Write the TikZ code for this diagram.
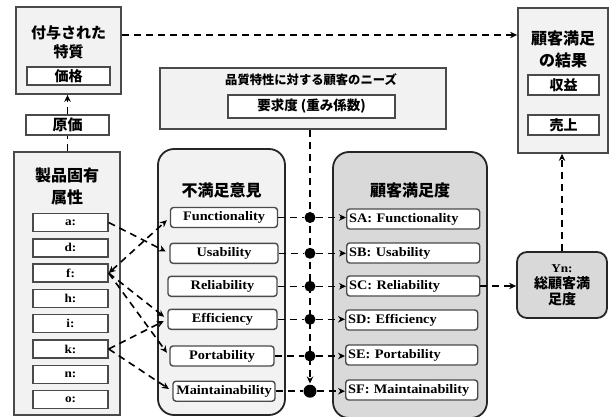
\documentclass[tikz,border=0pt]{standalone}
\usepackage{fontspec}
\setmainfont{Liberation Serif}
\newfontfamily\jp{Noto Sans CJK JP}
\newfontfamily\lat{Liberation Serif}[FakeStretch=1.1]
\usetikzlibrary{arrows.meta}
\definecolor{lightbg}{HTML}{F2F2F2}
\definecolor{darkbg}{HTML}{D9D9D9}
\definecolor{edge}{HTML}{4A4A4A}
\begin{document}
\begin{tikzpicture}[x=1pt,y=-1pt,
  outerbox/.style={draw=edge, line width=1.8pt, fill=lightbg, inner sep=0pt},
  roundbox/.style={draw=black!85, line width=1.8pt, rounded corners=16pt, inner sep=0pt},
  whitebox/.style={draw=edge, line width=1.4pt, fill=white, inner sep=0pt, font=\jp\bfseries\fontsize{14}{16}\selectfont},
  attrbox/.style={draw=edge, line width=1.4pt, fill=white, inner sep=0pt, minimum width=75pt, minimum height=18pt, font=\lat\bfseries\fontsize{12}{13}\selectfont},
  itembox/.style={draw=edge, line width=1.4pt, fill=white, rounded corners=3pt, inner sep=0pt, minimum height=20pt, font=\lat\bfseries\fontsize{13}{14}\selectfont},
  jptitle/.style={align=center, inner sep=0pt, font=\jp\bfseries\fontsize{16}{22}\selectfont},
  dashline/.style={draw=black, line width=1.6pt, dash pattern=on 7pt off 5pt},
  arr/.style={-{Stealth[length=7pt,width=6.5pt]}},
  dot/.style={circle, fill=black, minimum size=11pt, inner sep=0pt}
]
\useasboundingbox (0,0) rectangle (615,417);

% left column
\node[outerbox, minimum width=105pt, minimum height=87pt] (fuyo) at (68.5,50.5) {};
\node[jptitle, font=\jp\bfseries\fontsize{15}{19}\selectfont] (fuyoT) at (68.5,42.5) {付与された\\特質};
\node[whitebox, minimum width=83pt, minimum height=18pt] (kakaku) at (68.5,76) {価格};
\node[whitebox, minimum width=83pt, minimum height=20pt, font=\jp\bfseries\fontsize{15}{16}\selectfont] (genka) at (67.5,125) {原価};

\node[outerbox, minimum width=106pt, minimum height=263pt] (seihin) at (67,283.5) {};
\node[jptitle] (seihinT) at (67,186) {製品固有\\属性};
\node[attrbox] (a) at (70.5,222.5) {a:};
\node[attrbox] (d) at (70.5,247.8) {d:};
\node[attrbox] (f) at (70.5,273.1) {f:};
\node[attrbox] (h) at (70.5,298.4) {h:};
\node[attrbox] (i) at (70.5,323.7) {i:};
\node[attrbox] (k) at (70.5,349) {k:};
\node[attrbox] (n) at (70.5,374.3) {n:};
\node[attrbox] (o) at (70.5,399.6) {o:};

% needs box
\node[outerbox, minimum width=286pt, minimum height=61pt] (needs) at (303,98.5) {};
\node[inner sep=0pt, font=\jp\bfseries\fontsize{12.3}{14}\selectfont] (needsT) at (311,80) {品質特性に対する顧客のニーズ};
\node[whitebox, minimum width=167pt, minimum height=23pt, font=\jp\bfseries\fontsize{13.5}{15}\selectfont] (yokyu) at (311.5,106.5) {要求度 (重み係数)};

% dissatisfaction box
\node[roundbox, fill=lightbg, minimum width=127pt, minimum height=266pt] (fuman) at (221.5,282) {};
\node[jptitle] (fumanT) at (221.5,190) {不満足意見};
\node[itembox, minimum width=107pt] (func) at (224,217.5) {Functionality};
\node[itembox, minimum width=108pt] (usab) at (224,253.3) {Usability};
\node[itembox, minimum width=109pt] (reli) at (222.5,286.3) {Reliability};
\node[itembox, minimum width=109pt] (effi) at (222.5,319.3) {Efficiency};
\node[itembox, minimum width=104pt] (port) at (222,356) {Portability};
\node[itembox, minimum width=102pt] (main) at (224,391.2) {Maintainability};

% satisfaction box
\node[roundbox, fill=darkbg, minimum width=154pt, minimum height=266pt] (manzoku) at (410,285) {};
\node[jptitle] (manzokuT) at (410,190) {顧客満足度};
\node[itembox, anchor=west, minimum width=133pt, text width=128pt, align=left] (sa) at (346,219) {SA: Functionality};
\node[itembox, anchor=west, minimum width=133pt, text width=128pt, align=left] (sb) at (346,253) {SB: Usability};
\node[itembox, anchor=west, minimum width=133pt, text width=128pt, align=left] (sc) at (346,286) {SC: Reliability};
\node[itembox, anchor=west, minimum width=132pt, text width=127pt, align=left] (sd) at (345,320) {SD: Efficiency};
\node[itembox, anchor=west, minimum width=132pt, text width=127pt, align=left] (se) at (345,355) {SE: Portability};
\node[itembox, anchor=west, minimum width=132pt, text width=127pt, align=left] (sf) at (345,390) {SF: Maintainability};

% result box
\node[outerbox, minimum width=90pt, minimum height=145pt] (result) at (563,80.5) {};
\node[jptitle] (resultT) at (563,49) {顧客満足\\の結果};
\node[whitebox, minimum width=71pt, minimum height=20pt] (shueki) at (563.5,85) {収益};
\node[whitebox, minimum width=71pt, minimum height=20pt] (uriage) at (563.5,125) {売上};

% Yn box
\node[draw=black!85, line width=1.8pt, fill=darkbg, rounded corners=10pt, minimum width=90pt, minimum height=66pt, inner sep=0pt] (yn) at (562,285) {};
\node[align=center, inner sep=0pt, font=\jp\bfseries\fontsize{14}{16}\selectfont] (ynT) at (562,285) {{\lat\bfseries\fontsize{12}{14}\selectfont Yn:}\\総顧客満\\足度};

% top connectors
\draw[dashline, arr] (fuyo.east |- 0,35) -- (result.west |- 0,35);
\draw[dashline, arr] (genka.north) -- (genka.north |- fuyo.south);
\draw[dashline] (seihin.north -| genka.north) -- (genka.south);

% attribute -> dissatisfaction
\draw[dashline, arr, shorten >=4pt] (a.east) -- (usab.west);
\draw[dashline, {Stealth[length=7pt,width=6.5pt]}-{Stealth[length=7pt,width=6.5pt]}, shorten >=4pt] (f.east) -- (func.west);
\draw[dashline, arr, shorten >=4pt] (f.east) -- (effi.west);
\draw[dashline, arr, shorten >=4pt] (f.east) -- (port.west);
\draw[dashline, arr, shorten >=4pt] (k.east) -- (effi.west);
\draw[dashline, arr, shorten >=4pt] (k.east) -- (main.west);

% dots
\node[dot] (d1) at (310,217.5) {};
\node[dot] (d2) at (310,253.3) {};
\node[dot] (d3) at (310,286.3) {};
\node[dot] (d4) at (310,319.3) {};
\node[dot] (d5) at (310,356) {};
\node[dot, minimum size=13pt] (d6) at (310,391.2) {};

\draw[dashline, arr, shorten >=1pt] (needs.south -| d1) -- (d6);

\foreach \src/\dt/\dst in {func/d1/sa, usab/d2/sb, reli/d3/sc, effi/d4/sd, port/d5/se, main/d6/sf}{
  \draw[dashline] (\src.east) -- (\dt);
  \draw[dashline, arr] (\dt) -- (\dst.west |- \dt);
}

% satisfaction -> Yn -> result
\draw[dashline, arr] (sc.east) -- (yn.west |- sc.east);
\draw[dashline, arr] (yn.north) -- (yn.north |- result.south);
\end{tikzpicture}
\end{document}
